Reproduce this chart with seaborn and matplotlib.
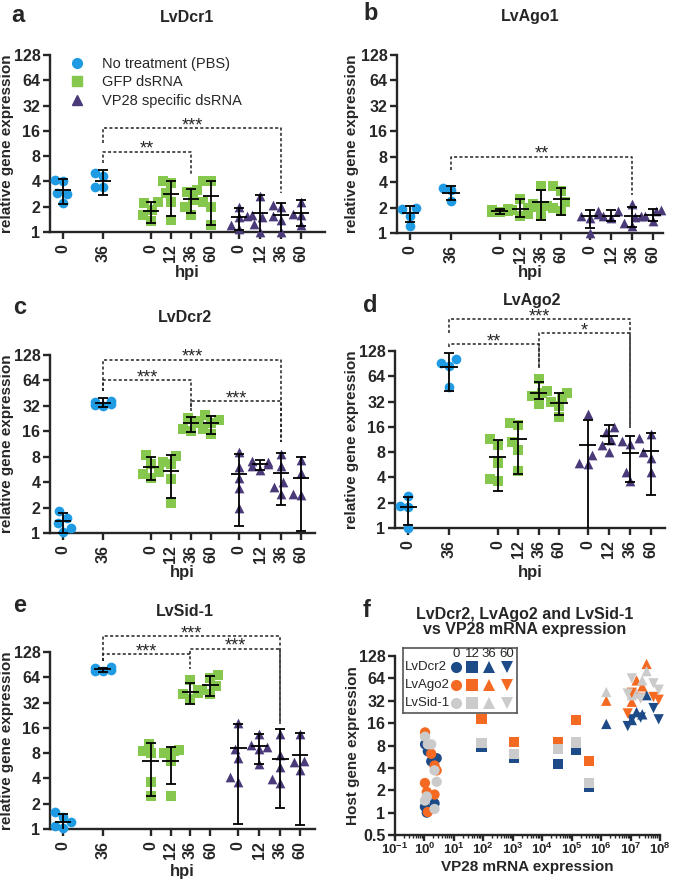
import numpy as np
import pandas as pd
import matplotlib
matplotlib.use('Agg')
import matplotlib.pyplot as plt
from matplotlib.lines import Line2D
import seaborn as sns

# ---------------- dados ----------------
GRUPOS = ['No treatment (PBS)', 'GFP dsRNA', 'VP28 specific dsRNA']
GRUPO_IDX = [0, 0, 1, 1, 1, 1, 2, 2, 2, 2]
HPI = ['0', '36', '0', '12', '36', '60', '0', '12', '36', '60']
Y_TICKS = [1, 2, 4, 8, 16, 32, 64, 128]

# LvDcr1
dcr1_pts = [[4.2, 4.1, 2.9, 2.8, 2.2], [5.0, 4.6, 3.4, 3.4], [2.3, 2.2, 1.85, 1.6, 1.35],
            [4.0, 3.8, 2.9, 2.3, 1.4], [3.2, 3.0, 2.4, 2.0, 1.6], [4.1, 4.0, 2.3, 2.0, 1.2],
            [2.0, 1.55, 1.5, 1.2, 1.1], [2.7, 1.6, 1.5, 1.25, 1.0], [2.1, 2.0, 1.55, 1.4, 1.0],
            [2.25, 1.65, 1.6, 1.2]]
dcr1_media = [3.2, 4.1, 1.8, 2.8, 2.5, 2.65, 1.5, 1.68, 1.6, 1.68]
dcr1_inf = [2.17, 2.78, 1.28, 1.53, 1.68, 1.22, 1.05, 0.9, 0.95, 1.19]
dcr1_sup = [4.26, 5.4, 2.3, 4.1, 3.27, 4.07, 1.93, 2.73, 2.21, 2.42]
dcr1_sig = [(1, 4, 9.0, 6.6, 4.8, '**'), (1, 8, 17.1, 11.4, 2.9, '***')]

# LvAgo1
ago1_pts = [[2.0, 1.9, 1.6, 1.2], [3.4, 3.2, 2.4], [1.9, 1.85, 1.8, 1.75, 1.75],
            [2.5, 2.0, 1.85, 1.7, 1.6], [3.6, 2.2, 2.1, 2.05, 1.6], [3.6, 3.1, 2.3, 2.0, 1.8],
            [1.8, 1.7, 1.6, 1.5, 1.0], [1.8, 1.6, 1.5], [2.2, 1.6, 1.55, 1.3, 1.2],
            [1.85, 1.8, 1.6, 1.4]]
ago1_media = [1.73, 2.98, 1.81, 1.93, 2.31, 2.55, 1.58, 1.61, 1.61, 1.65]
ago1_inf = [1.34, 2.44, 1.69, 1.55, 1.41, 1.65, 1.15, 1.4, 1.18, 1.4]
ago1_sup = [2.11, 3.64, 1.93, 2.53, 3.2, 3.42, 1.89, 1.85, 2.03, 1.93]
ago1_sig = [(1, 8, 8.0, 5.6, 2.85, '**')]

# LvDcr2
dcr2_pts = [[1.8, 1.5, 1.3, 1.15, 1.03], [37, 36, 34, 33, 32], [8.3, 6.6, 5.3, 5.0, 4.5],
            [8.2, 7.0, 6.5, 4.4, 2.25], [23, 21, 20, 17, 16], [25, 22, 20, 17, 15],
            [9.0, 6.0, 4.5, 3.4, 2.0], [7.2, 7.0, 6.5, 6.2, 5.5], [8.6, 6.2, 4.0, 3.5, 2.9],
            [7.3, 5.1, 2.9, 2.8]]
dcr2_media = [1.38, 34.6, 6.1, 5.47, 20, 20, 5.0, 6.55, 5.18, 4.5]
dcr2_inf = [1.0, 31, 4.2, 2.63, 15.5, 14.9, 1.21, 5.6, 2.13, 1.07]
dcr2_sup = [1.73, 39.4, 7.9, 8.4, 23.5, 24.6, 8.55, 7.3, 8.8, 8.0]
dcr2_sig = [(1, 8, 113, 47.6, 12.1, '***'), (1, 4, 64.4, 47.6, 30.2, '***'),
            (4, 8, 36.2, 27.5, 12.1, '***')]

# LvAgo2
ago2_pts = [[2.4, 1.85, 1.8, 1.0], [103, 93, 85, 47.5], [11.5, 9.8, 6.0, 3.8, 3.6],
            [18, 17, 10.5, 8.5, 4.8], [60, 43, 40, 37, 30], [40, 36, 32, 28, 21],
            [23, 7.4, 6.0, 5.8], [16, 14, 11.2, 9.8, 8], [11.7, 11, 10, 4.6, 3.6],
            [13, 8.1, 6.8, 4.7]]
ago2_media = [1.78, 82, 7.0, 11.4, 41, 31, 9.8, 12.5, 7.9, 8.15]
ago2_inf = [1.09, 43, 2.73, 4.4, 34, 22, 0.9, 10.0, 3.5, 2.49]
ago2_sup = [2.33, 120, 11.2, 18.3, 55, 40, 19.4, 16.8, 12.3, 13.6]
ago2_sig = [(1, 8, 307, 207, 15.4, '***'), (1, 4, 153, 144, 79.6, '**'),
            (4, 8, 207, 79.6, 15.4, '*')]

# LvSid-1
sid1_pts = [[1.6, 1.4, 1.2, 1.08, 1.03], [84, 82, 79, 77, 75], [10.4, 8.5, 8.0, 3.6, 2.5],
            [8.7, 8.4, 8.0, 6.5, 2.5], [60, 45, 42, 40, 35], [68, 62, 50, 45, 40],
            [18.5, 9.0, 7.0, 4.2, 3.6], [13.5, 10, 9.5, 9, 6], [13.5, 7.5, 5.5, 3.9, 3.5],
            [13.7, 6.5, 6.3, 5.1]]
sid1_media = [1.21, 79.5, 6.5, 6.4, 43, 52, 9.1, 9.7, 6.8, 7.6]
sid1_inf = [0.9, 74, 2.45, 3.4, 31, 38, 1.16, 6.0, 1.76, 1.13]
sid1_sup = [1.52, 82.5, 10.6, 9.5, 55, 66, 18, 13.7, 15.7, 13.9]
sid1_sig = [(1, 8, 199, 100, 17.6, '***'), (1, 4, 120, 100, 79.5, '***'),
            (4, 8, 140, 120, 17.6, '***')]

# painel f: expressao de VP28 vs genes do hospedeiro
GENES_F = ['LvDcr2', 'LvAgo2', 'LvSid-1']
vp28_0 = [1.05, 1.7, 2.2, 2.6, 1.04, 1.2, 2.2, 1.3]
dcr2_0 = [8.3, 4.9, 5.2, 5.4, 1.2, 1.0, 1.33, 6.7]
ago2_0 = [12.0, 6.2, 4.3, 3.7, 2.5, 1.9, 1.75, 1.02]
sid1_0 = [10.5, 8.3, 3.7, 2.6, 1.45, 1.65, 1.12, 8.3]
vp28_12 = [87, 1100, 35000, 1.38e5, 3.9e5]
dcr2_12 = [7.7, 5.5, 4.5, 6.9, 2.2]
ago2_12 = [18, 9.0, 8.8, 17.6, 5.0]
sid1_12 = [8.6, 6.2, 7.2, 8.8, 2.5]
vp28_36 = [1.5e6, 1.1e7, 1.6e7, 2.5e7, 3.5e7]
dcr2_36 = [15.6, 17.6, 22.5, 21, 38]
ago2_36 = [32, 31, 60, 50, 100]
sid1_36 = [42, 38, 40, 60, 80]
vp28_60 = [8e6, 1.1e7, 2.2e7, 6e7, 9e7]
dcr2_60 = [14.6, 18, 19, 25.5, 18]
ago2_60 = [21.6, 41, 35, 36, 33]
sid1_60 = [40, 64, 34.5, 55, 45]

# ---------------- estilo ----------------
W, H = 675, 880
POS = [0, 2, 4.4, 5.4, 6.4, 7.4, 8.8, 9.85, 10.9, 11.9]
CORES = ['#1e9be2', '#86c84e', '#4a3a7a']
MARCADORES = ['o', 's', '^']
CORES_F = {'LvDcr2': '#1c4b87', 'LvAgo2': '#f46a22', 'LvSid-1': '#cbcbcb'}
MARC_F = {0: 'o', 12: 's', 36: '^', 60: 'v'}

sns.set_style('ticks')
plt.rcParams['font.family'] = ['Liberation Sans', 'DejaVu Sans']
plt.rcParams['mathtext.fontset'] = 'custom'
plt.rcParams['mathtext.rm'] = 'Liberation Sans:bold'
plt.rcParams['mathtext.bf'] = 'Liberation Sans:bold'
plt.rcParams['mathtext.default'] = 'bf'


def px_rect(l, t, r, b):
    return [l / W, 1 - b / H, (r - l) / W, (b - t) / H]


def estilo_eixos(ax):
    sns.despine(ax=ax)
    for s in ['left', 'bottom']:
        ax.spines[s].set_linewidth(1.7)
    ax.tick_params(width=1.7, length=5, labelsize=11.5)
    ax.tick_params(axis='y', pad=2)
    for lab in ax.get_xticklabels() + ax.get_yticklabels():
        lab.set_fontweight('bold')


def rotulos(ax, rect, ylabel_x, xlabel_y, xlabel, ylabel):
    l, t, r, b = rect
    ax.set_xlabel(xlabel, fontweight='bold', fontsize=12)
    ax.set_ylabel(ylabel, fontweight='bold', fontsize=11)
    ax.xaxis.label.set_va('center')
    ax.yaxis.label.set_va('center')
    ax.xaxis.set_label_coords(0.5, -(xlabel_y - b) / (b - t))
    ax.yaxis.set_label_coords((ylabel_x - l) / (r - l), 0.5)


def painel_expressao(fig, rect, pontos, media, inf, sup, barras, xmax, xlabel_y):
    ax = fig.add_axes(px_rect(*rect))
    ax.set_yscale('log', base=2)
    # um swarm por coluna, para que a largura de cada nuvem fique igual
    for i, vals in enumerate(pontos):
        g = GRUPO_IDX[i]
        sub = pd.DataFrame({'pos': POS[i], 'valor': vals})
        sns.swarmplot(data=sub, x='pos', y='valor', native_scale=True, orient='x',
                      color=CORES[g], marker=MARCADORES[g], size=7, linewidth=0,
                      warn_thresh=1, ax=ax, clip_on=False, zorder=3)
    media = np.array(media)
    ax.errorbar(POS, media, yerr=[media - np.array(inf), np.array(sup) - media],
                fmt='none', ecolor='black', elinewidth=1.3, capsize=3.5, capthick=1.3, zorder=4)
    ax.hlines(media, np.array(POS) - 0.42, np.array(POS) + 0.42, color='black', lw=1.3, zorder=4)

    for i, j, yb, yi, yj, txt in barras:
        xi, xj = POS[i], POS[j]
        ax.plot([xi, xi, xj, xj], [yi, yb, yb, yj], ls=(0, (2, 1.5)), color='#222222',
                lw=1.1, clip_on=False)
        ax.annotate(txt, xy=((xi + xj) / 2, yb), xytext=(0, -1.5), textcoords='offset points',
                    ha='center', va='baseline', fontsize=13, annotation_clip=False)

    ax.set_ylim(1, 128)
    ax.set_xlim(-0.65, xmax)
    ax.set_yticks(Y_TICKS)
    ax.set_yticklabels([str(v) for v in Y_TICKS])
    ax.yaxis.set_minor_locator(matplotlib.ticker.NullLocator())
    ax.set_xticks(POS)
    ax.set_xticklabels(HPI, rotation=90)
    estilo_eixos(ax)
    ylabel_x = 7 if rect[0] < 300 else 352
    rotulos(ax, rect, ylabel_x, xlabel_y, 'hpi', 'relative gene expression')
    return ax


fig = plt.figure(figsize=(W / 100, H / 100), dpi=100)

ax_a = painel_expressao(fig, (50, 55, 325, 232), dcr1_pts, dcr1_media, dcr1_inf, dcr1_sup,
                        dcr1_sig, 13.1, 272)
ax_b = painel_expressao(fig, (397, 55, 663, 233), ago1_pts, ago1_media, ago1_inf, ago1_sup,
                        ago1_sig, 12.4, 273)
ax_c = painel_expressao(fig, (50, 355, 315, 533), dcr2_pts, dcr2_media, dcr2_inf, dcr2_sup,
                        dcr2_sig, 12.6, 572)
ax_d = painel_expressao(fig, (395, 351, 665, 528), ago2_pts, ago2_media, ago2_inf, ago2_sup,
                        ago2_sig, 12.6, 572)
ax_e = painel_expressao(fig, (50, 652, 315, 829), sid1_pts, sid1_media, sid1_inf, sid1_sup,
                        sid1_sig, 12.65, 871)

# legenda do painel a
handles = [Line2D([], [], marker=MARCADORES[g], color=CORES[g], ls='none', ms=7)
           for g in range(3)]
ax_a.legend(handles, GRUPOS, loc='upper left', bbox_to_anchor=((70 - 50) / 275, (232 - 57) / 177),
            frameon=False, handlelength=1, handletextpad=1.2, labelspacing=0.3,
            borderpad=0, borderaxespad=0, fontsize=10.5)

# ---------------- painel f ----------------
linhas_f = []
for hpi, xs, series in [(0, vp28_0, [dcr2_0, ago2_0, sid1_0]),
                        (12, vp28_12, [dcr2_12, ago2_12, sid1_12]),
                        (36, vp28_36, [dcr2_36, ago2_36, sid1_36]),
                        (60, vp28_60, [dcr2_60, ago2_60, sid1_60])]:
    for gene, ys in zip(GENES_F, series):
        for x, y in zip(xs, ys):
            linhas_f.append({'vp28': x, 'expr': y, 'gene': gene, 'hpi': hpi})
df_f = pd.DataFrame(linhas_f)

rect_f = (395, 656, 660, 835)
ax_f = fig.add_axes(px_rect(*rect_f))
ax_f.set_xscale('log')
ax_f.set_yscale('log', base=2)
sns.scatterplot(data=df_f, x='vp28', y='expr', hue='gene', style='hpi', markers=MARC_F,
                palette=CORES_F, s=55, linewidth=0, legend=False, ax=ax_f, clip_on=False, zorder=3)
ax_f.set_xlim(0.1, 1e8)
ax_f.set_ylim(0.5, 128)
ax_f.set_xticks([10.0 ** k for k in range(-1, 9)])
ax_f.set_xticklabels(['$10^{%d}$' % k for k in range(-1, 9)])
ax_f.xaxis.set_minor_locator(matplotlib.ticker.LogLocator(base=10, subs=np.arange(2, 10), numticks=20))
ax_f.xaxis.set_minor_formatter(matplotlib.ticker.NullFormatter())
yt_f = [0.5] + Y_TICKS
ax_f.set_yticks(yt_f)
ax_f.set_yticklabels(['0.5'] + [str(v) for v in Y_TICKS])
ax_f.yaxis.set_minor_locator(matplotlib.ticker.NullLocator())
estilo_eixos(ax_f)
ax_f.tick_params(axis='x', which='major', labelsize=9.5, pad=1, length=4)
ax_f.tick_params(axis='x', which='minor', length=2.5, width=1.0)
rotulos(ax_f, rect_f, 353, 867, 'VP28 mRNA expression', 'Host gene expression')
ax_f.xaxis.label.set_fontsize(11)

# legenda em grelha do painel f
leg = fig.add_axes(px_rect(403, 648, 517, 713))
leg.set_xlim(403, 517)
leg.set_ylim(713, 648)
leg.set_xticks([])
leg.set_yticks([])
for s in leg.spines.values():
    s.set_linewidth(1.2)
    s.set_edgecolor('#555555')
col_x = [456, 472, 489, 507]
row_y = [667, 685, 703]
for cx, hpi in zip(col_x, MARC_F):
    leg.text(cx, 654, str(hpi), ha='center', va='center', fontsize=9.5)
for ry, gene in zip(row_y, GENES_F):
    leg.text(405, ry, gene, ha='left', va='center', fontsize=9.5)
    for cx, hpi in zip(col_x, MARC_F):
        leg.plot([cx], [ry], marker=MARC_F[hpi], color=CORES_F[gene], ms=8, ls='none', mew=0)

# titulos e letras
titulos = [('LvDcr1', 187, 18), ('LvAgo1', 530, 17), ('LvDcr2', 185, 317),
           ('LvAgo2', 532, 300), ('LvSid-1', 185, 611),
           ('LvDcr2, LvAgo2 and LvSid-1\nvs VP28 mRNA expression', 525, 622)]
for txt, x, y in titulos:
    fig.text(x / W, 1 - y / H, txt, ha='center', va='center', fontweight='bold',
             fontsize=11.5, linespacing=1.05)
letras = [('a', 18, 16), ('b', 371, 14), ('c', 20, 307), ('d', 370, 306), ('e', 20, 606),
          ('f', 367, 610)]
for txt, x, y in letras:
    fig.text(x / W, 1 - y / H, txt, ha='center', va='center', fontweight='bold', fontsize=17)

fig.savefig('out.png', dpi=100)
